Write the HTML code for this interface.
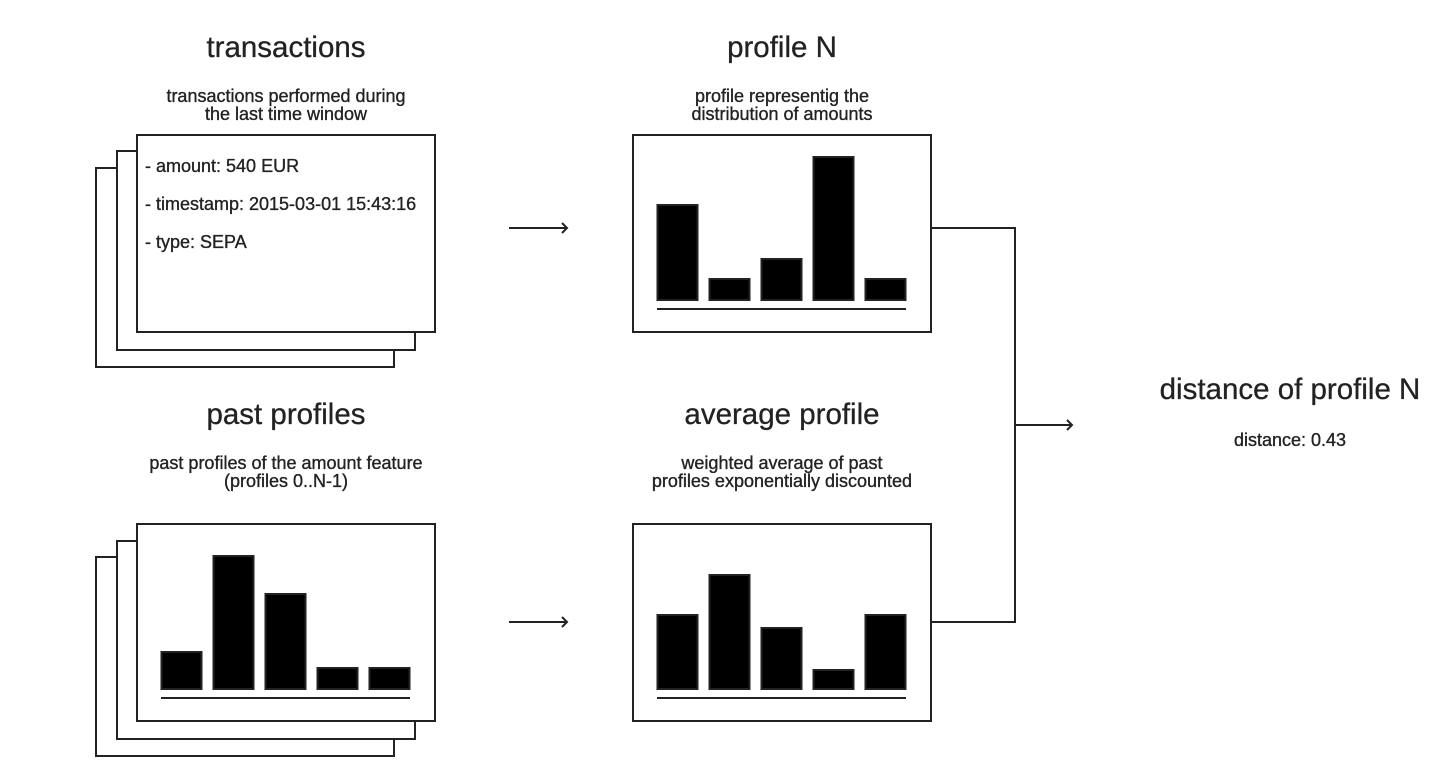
<!DOCTYPE html>
<html><head><meta charset="utf-8"><style>
html,body{margin:0;padding:0;background:#fff;}
svg{display:block;font-family:"Liberation Sans",Arial,sans-serif;}
.t{font-size:29.5px;fill:#222;text-anchor:middle;stroke:#222;stroke-width:0.3;}
.s{font-size:18px;fill:#222;text-anchor:middle;stroke:#222;stroke-width:0.35;}
.b{font-size:18px;fill:#222;stroke:#222;stroke-width:0.35;}
.box{fill:#fff;stroke:#222;stroke-width:2;}
.ln{stroke:#222;stroke-width:2;fill:none;}
</style></head><body>
<svg id="svg" width="1441" height="768" viewBox="0 0 1441 768">
<text class="t" x="286" y="57">transactions</text>
<text class="s" x="286" y="102">transactions performed during</text>
<text class="s" x="286" y="120">the last time window</text>
<rect class="box" x="96" y="168" width="298" height="199"/>
<rect class="box" x="117" y="151" width="298" height="199"/>
<rect class="box" x="137" y="135" width="298" height="197"/>
<text class="b" x="145" y="172">- amount: 540 EUR</text>
<text class="b" x="145" y="210">- timestamp: 2015-03-01 15:43:16</text>
<text class="b" x="145" y="248">- type: SEPA</text>

<text class="t" x="782" y="57">profile N</text>
<text class="s" x="782" y="102">profile representig the</text>
<text class="s" x="782" y="120">distribution of amounts</text>
<rect class="box" x="633" y="135" width="298" height="197"/>

<text class="t" x="286" y="424">past profiles</text>
<text class="s" x="286" y="469">past profiles of the amount feature</text>
<text class="s" x="286" y="487">(profiles 0..N-1)</text>
<rect class="box" x="96" y="557" width="298" height="199"/>
<rect class="box" x="117" y="541" width="298" height="198"/>
<rect class="box" x="137" y="524" width="298" height="197"/>

<text class="t" x="782" y="424">average profile</text>
<text class="s" x="782" y="469">weighted average of past</text>
<text class="s" x="782" y="487">profiles exponentially discounted</text>
<rect class="box" x="633" y="524" width="298" height="197"/>

<g>
<path class="ln" d="M509 228H567M562 223L567 228L562 233"/></g>
<g>
<path class="ln" d="M509 622H567M562 617L567 622L562 627"/></g>
<g>
<path class="ln" d="M931 228H1015V622H931M1015 425H1072M1067 420L1072 425L1067 430"/></g>

<text class="t" x="1290" y="399">distance of profile N</text>
<text class="s" x="1290" y="446">distance: 0.43</text>
<g id="bars"></g>
</svg>
<script>
const bins = ["b1","b2","b3","b4","b5"];
const profileN = [95, 21, 41, 143, 21];
const pastProfile = [37, 133, 95, 21, 21];
const averageProfile = [74, 114, 61, 19, 74];
const NS = "http://www.w3.org/2000/svg";
const g = document.getElementById("bars");
function chart(vals, left, base, name){
  const x = i => left + i * 52;
  const y = v => base - v;
  vals.forEach((v, i) => {
    const r = document.createElementNS(NS, "rect");
    r.setAttribute("x", x(i) + 0.5);
    r.setAttribute("y", y(v));
    r.setAttribute("width", 40);
    r.setAttribute("height", v);
    r.setAttribute("fill", "#000");
    r.setAttribute("stroke", "#222");
    r.setAttribute("stroke-width", "2");
    
    
    g.appendChild(r);
  });
  const l = document.createElementNS(NS, "line");
  l.setAttribute("x1", left); l.setAttribute("x2", left + 249);
  l.setAttribute("y1", base + 9); l.setAttribute("y2", base + 9);
  l.setAttribute("stroke", "#222"); l.setAttribute("stroke-width", "2");
  
  
  g.appendChild(l);
}
chart(profileN, 657, 300, "profile-n");
chart(pastProfile, 161, 689, "past-profile");
chart(averageProfile, 657, 689, "average-profile");
</script>
</body></html>
